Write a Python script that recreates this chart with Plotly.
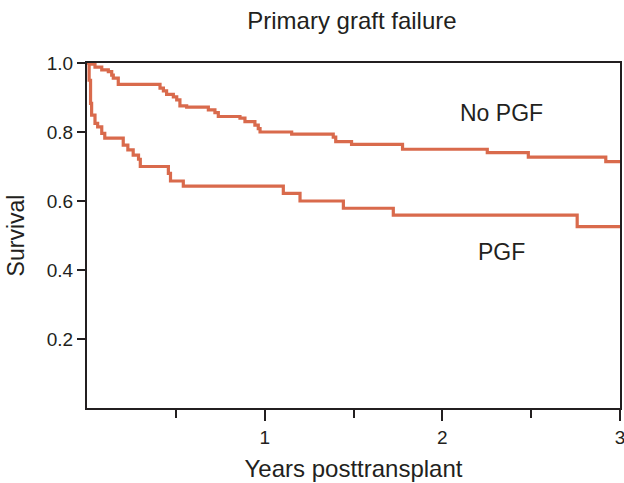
import plotly.graph_objects as go

# Kaplan-Meier step data
no_pgf_years = [0, 0.017, 0.045, 0.083, 0.12, 0.139, 0.148, 0.176, 0.411, 0.43, 0.448, 0.486,
                0.505, 0.523, 0.561, 0.683, 0.72, 0.739, 0.861, 0.889, 0.945, 0.964, 0.974,
                1.152, 1.386, 1.40, 1.489, 1.776, 2.253, 2.484, 2.92, 3.0]
no_pgf_surv = [1.0, 0.997, 0.988, 0.98, 0.975, 0.965, 0.956, 0.938, 0.927, 0.919, 0.909, 0.902,
               0.893, 0.876, 0.872, 0.864, 0.856, 0.845, 0.84, 0.83, 0.82, 0.81, 0.80,
               0.794, 0.785, 0.772, 0.764, 0.75, 0.74, 0.727, 0.714, 0.714]

pgf_years = [0, 0.012, 0.02, 0.026, 0.045, 0.06, 0.083, 0.10, 0.204, 0.23, 0.26, 0.29, 0.30,
             0.458, 0.47, 0.542, 1.105, 1.199, 1.443, 1.724, 2.759, 3.0]
pgf_surv = [1.0, 0.95, 0.883, 0.849, 0.825, 0.815, 0.796, 0.782, 0.762, 0.748, 0.733, 0.721, 0.70,
            0.68, 0.658, 0.643, 0.622, 0.60, 0.579, 0.559, 0.526, 0.526]

x_major_ticks = [1, 2, 3]
x_minor_ticks = [0.5, 1.5, 2.5]
y_ticks = [0.2, 0.4, 0.6, 0.8, 1.0]

line_color = "#D96A4C"
text_color = "#231F20"
font_family = "Liberation Sans, Arial, sans-serif"

fig = go.Figure()
fig.add_trace(go.Scatter(x=no_pgf_years, y=no_pgf_surv, mode="lines", line_shape="hv",
                         line=dict(color=line_color, width=3.2), name="No PGF", cliponaxis=False))
fig.add_trace(go.Scatter(x=pgf_years, y=pgf_surv, mode="lines", line_shape="hv",
                         line=dict(color=line_color, width=3.2), name="PGF", cliponaxis=False))

fig.add_annotation(x=2.335, y=0.855, text="No PGF", showarrow=False, xref="x", yref="y",
                   font=dict(size=23, color=text_color, family=font_family))
fig.add_annotation(x=2.335, y=0.452, text="PGF", showarrow=False, xref="x", yref="y",
                   font=dict(size=23, color=text_color, family=font_family))

fig.update_layout(
    width=624, height=483,
    margin=dict(l=87, r=4, t=63, b=75),
    paper_bgcolor="white", plot_bgcolor="white",
    showlegend=False,
    font=dict(family=font_family, color=text_color, size=19),
    title=dict(text="Primary graft failure", x=0.564, xanchor="center", y=0.957, yanchor="middle",
               font=dict(size=24, family=font_family, color=text_color)),
    xaxis=dict(range=[0, 3], tickvals=x_major_ticks, ticktext=["1", "2", "3"],
               ticks="outside", ticklen=11, tickwidth=2, tickcolor=text_color,
               showline=True, linecolor=text_color, linewidth=2, mirror=True,
               showgrid=False, zeroline=False, automargin=False,
               ticklabeloverflow="allow",
               minor=dict(tickvals=x_minor_ticks, ticks="outside", ticklen=8, tickwidth=2,
                          tickcolor=text_color, showgrid=False),
               tickfont=dict(size=19),
               title=dict(text="Years posttransplant", font=dict(size=24), standoff=13)),
    yaxis=dict(range=[0, 1], tickvals=y_ticks, ticktext=["0.2", "0.4", "0.6", "0.8", "1.0"],
               ticks="outside", ticklen=8, tickwidth=2, tickcolor=text_color,
               showline=True, linecolor=text_color, linewidth=2, mirror=True,
               showgrid=False, zeroline=False, automargin=False,
               tickfont=dict(size=19),
               title=dict(text="Survival", font=dict(size=23), standoff=16)),
)

fig.write_html("out.html", config={"displayModeBar": False},
               post_script="document.body.style.margin='0';document.body.style.overflow='hidden';")
